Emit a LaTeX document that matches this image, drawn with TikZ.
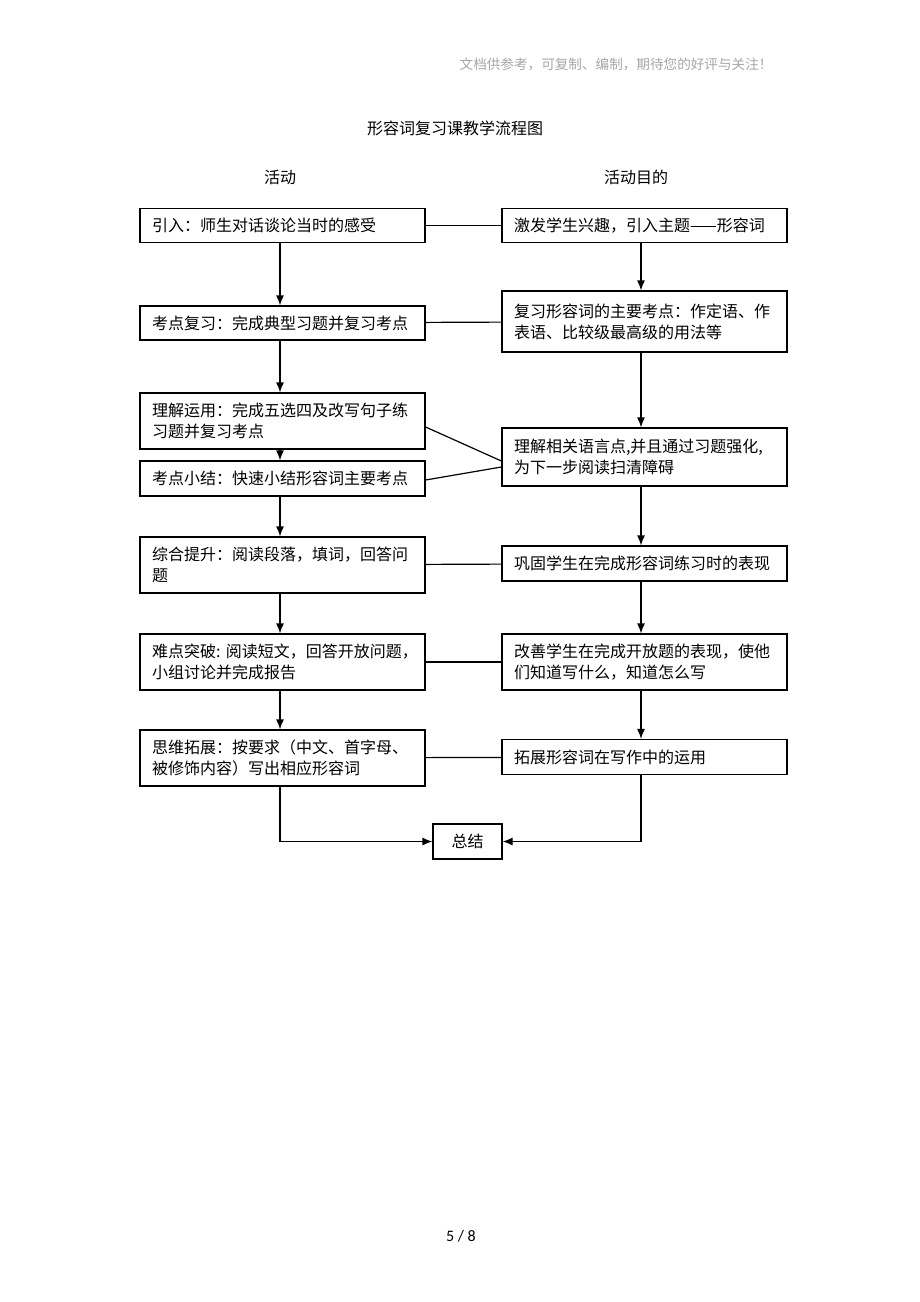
\documentclass[tikz,border=0pt]{standalone}
\usepackage{fontspec}
\setmainfont{Noto Sans CJK SC}
\newfontfamily\pagefont{Carlito}
\usetikzlibrary{arrows.meta}

\tikzstyle{box}     = [rectangle, draw, line width=1.2pt, text width=261pt, inner xsep=12pt, inner ysep=2pt, align=left, minimum height=34pt, font=\fontsize{16}{21}\selectfont]
\tikzstyle{tall}    = [box, minimum height=56pt]
\tikzstyle{line}    = [line width=1.2pt]
\tikzstyle{arrow}   = [line, ->, >={Latex[length=10pt,width=8pt]}]
\tikzstyle{heading} = [font=\fontsize{16}{21}\selectfont]

\begin{document}
\begin{tikzpicture}[x=1pt,y=1pt]
\useasboundingbox (0,0) rectangle (920,-1302);

% page text
\node (header) [anchor=east, text=gray!70, font=\fontsize{13.6}{16}\selectfont] at (776,-64) {文档供参考，可复制、编制，期待您的好评与关注！};
\node (title)  [heading] at (455,-128) {形容词复习课教学流程图};
\node (acts)   [heading] at (280,-177) {活动};
\node (aims)   [heading] at (636,-177) {活动目的};
\node (page)   [font=\pagefont\fontsize{16}{19}\selectfont] at (461,-1236) {5 / 8};

% activities
\node (l1) [box] at (282.5,-225.5) {引入：师生对话谈论当时的感受};
\node (l2) [box,  node distance=97.5pt, below of=l1] {考点复习：完成典型习题并复习考点};
\node (l3) [tall, node distance=98pt,   below of=l2] {理解运用：完成五选四及改写句子练\\习题并复习考点};
\node (l4) [box,  node distance=57.5pt, below of=l3, minimum height=35pt] {考点小结：快速小结形容词主要考点};
\node (l5) [tall, node distance=86.5pt, below of=l4] {综合提升：阅读段落，填词，回答问\\题};
\node (l6) [tall, node distance=97pt,   below of=l5] {难点突破:~阅读短文，回答开放问题，\\小组讨论并完成报告};
\node (l7) [tall, node distance=96pt,   below of=l6] {思维拓展：按要求（中文、首字母、\\被修饰内容）写出相应形容词};

% aims
\node (r1) [box] at (644.5,-225.5) {激发学生兴趣，引入主题——形容词};
\node (r2) [box,  node distance=96pt,    below of=r1, minimum height=61pt] {复习形容词的主要考点：作定语、作\\表语、比较级最高级的用法等};
\node (r3) [box,  node distance=135.5pt, below of=r2, minimum height=58pt] {理解相关语言点,并且通过习题强化,\\为下一步阅读扫清障碍};
\node (r5) [box,  node distance=106.5pt, below of=r3, minimum height=35pt] {巩固学生在完成形容词练习时的表现};
\node (r6) [tall, node distance=98.5pt,  below of=r5] {改善学生在完成开放题的表现，使他\\们知道写什么，知道怎么写};
\node (r7) [box,  node distance=95pt,    below of=r6, minimum height=35pt] {拓展形容词在写作中的运用};

\node (sum) [rectangle, draw, line width=1.2pt, minimum width=69pt, minimum height=35pt, heading] at (467.5,-841.5) {总结};

\draw [arrow] ([xshift=-2.5pt]l1.south) -- ([xshift=-2.5pt]l2.north);
\draw [arrow] ([xshift=-2.5pt]l2.south) -- ([xshift=-2.5pt]l3.north);
\draw [arrow] ([xshift=-2.5pt]l3.south) -- ([xshift=-2.5pt]l4.north);
\draw [arrow] ([xshift=-2.5pt]l4.south) -- ([xshift=-2.5pt]l5.north);
\draw [arrow] ([xshift=-2.5pt]l5.south) -- ([xshift=-2.5pt]l6.north);
\draw [arrow] ([xshift=-2.5pt]l6.south) -- ([xshift=-2.5pt]l7.north);

\draw [arrow] ([xshift=-3.5pt]r1.south) -- ([xshift=-3.5pt]r2.north);
\draw [arrow] ([xshift=-3.5pt]r2.south) -- ([xshift=-3.5pt]r3.north);
\draw [arrow] ([xshift=-3.5pt]r3.south) -- ([xshift=-3.5pt]r5.north);
\draw [arrow] ([xshift=-3.5pt]r5.south) -- ([xshift=-3.5pt]r6.north);
\draw [arrow] ([xshift=-3.5pt]r6.south) -- ([xshift=-3.5pt]r7.north);

\draw [line] (l1) -- (r1);
\draw [line] (l2) -- (r2);
\draw [line] ([yshift=-6pt]l3.east) -- ([yshift=-4pt]r3.west);
\draw [line] ([yshift=-1.5pt]l4.east) -- ([yshift=-10pt]r3.west);
\draw [line] (l5) -- (r5);
\draw [line] (l6) -- (r6);
\draw [line] (l7) -- (r7);

\draw [arrow] ([xshift=-2.5pt]l7.south) |- (sum.west);
\draw [arrow] ([xshift=-3.5pt]r7.south) |- (sum.east);
\end{tikzpicture}
\end{document}
